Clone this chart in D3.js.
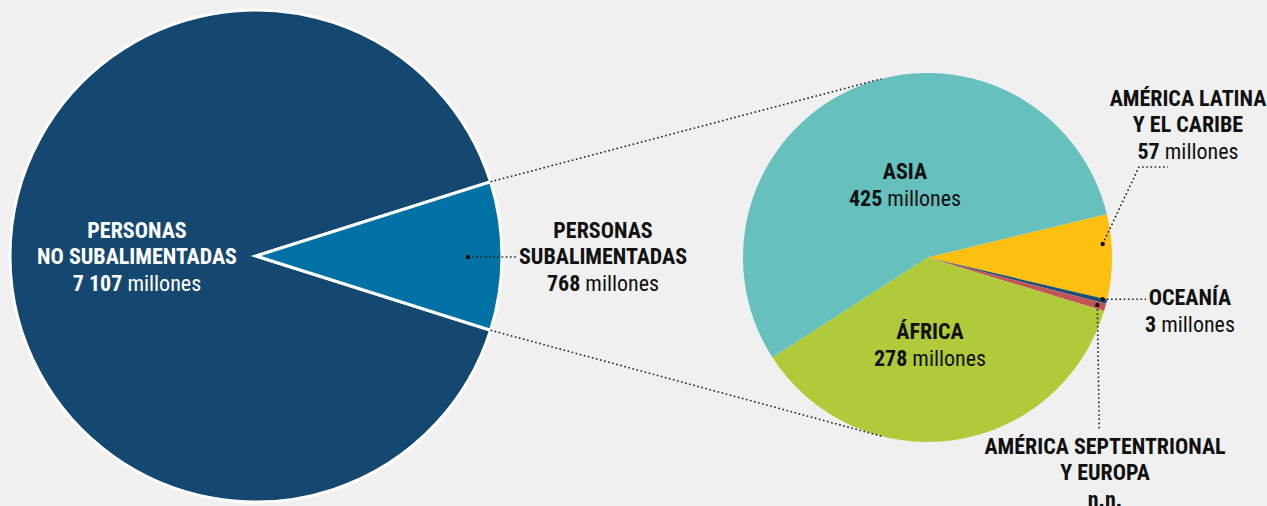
<!DOCTYPE html>
<html>
<head>
<meta charset="utf-8">
<script src="https://cdn.jsdelivr.net/npm/d3@7.9.0/dist/d3.min.js"></script>
<style>
  html, body { margin: 0; padding: 0; background: #f0f0f0; }
  svg { display: block; }
  text { font-family: "Liberation Sans Narrow", "Roboto Condensed", "DejaVu Sans Condensed", sans-serif; }
</style>
</head>
<body>
<svg id="chart" width="1267" height="506"></svg>
<script>
// world population split (millions)
const totalLabels = ["PERSONAS NO SUBALIMENTADAS", "PERSONAS SUBALIMENTADAS"];
const totalValues = [7107, 768];
const totalColors = ["#154870", "#0071a4"];

// undernourished people by region (millions); n.n. slice width estimated
const regions = ["AMÉRICA LATINA Y EL CARIBE", "OCEANÍA", "AMÉRICA SEPTENTRIONAL Y EUROPA", "ÁFRICA", "ASIA"];
const regionValues = [57, 3, 5, 278, 425];
const regionNumbers = ["57", "3", "n.n.", "278", "425"];
const regionColors = ["#fdc010", "#1b4f78", "#c35456", "#b0cb3a", "#66c0be"];

const svg = d3.select("#chart");
const rad = (deg) => (deg * Math.PI) / 180;

// ---- left pie
const left = { cx: 256, cy: 256, r: 246 };
const underAngle = (totalValues[1] / d3.sum(totalValues)) * 360;
const leftPie = d3.pie().sort(null)
  .startAngle(rad(90 + underAngle / 2))
  .endAngle(rad(90 + underAngle / 2 + 360));
const leftArc = d3.arc().innerRadius(0).outerRadius(left.r);

const gL = svg.append("g").attr("transform", `translate(${left.cx},${left.cy})`);
const leftArcs = leftPie(totalValues);
gL.selectAll("path")
  .data(leftArcs)
  .join("path")
  .attr("d", leftArc)
  .attr("fill", (d, i) => totalColors[i])
  .attr("stroke", "#fff")
  .attr("stroke-width", 3)
  .attr("stroke-linejoin", "miter");

// ---- right pie
const right = { cx: 927.5, cy: 257.5, r: 184.5 };
const start = 76.4;
const rightPie = d3.pie().sort(null).startAngle(rad(start)).endAngle(rad(start + 360));
const rightArc = d3.arc().innerRadius(0).outerRadius(right.r);
const gR = svg.append("g").attr("transform", `translate(${right.cx},${right.cy})`);
gR.selectAll("path")
  .data(rightPie(regionValues))
  .join("path")
  .attr("d", rightArc)
  .attr("fill", (d, i) => regionColors[i]);

// ---- connector lines between pies
const polar = (c, r, a) => [c.cx + r * Math.sin(a), c.cy - r * Math.cos(a)];
const under = leftArcs[1];
const connectors = [
  [polar(left, left.r, under.startAngle), polar(right, right.r, rad(-14.5))],
  [polar(left, left.r, under.endAngle), polar(right, right.r, rad(194.3))],
];

const dotted = (pts) => svg.append("path")
  .attr("d", d3.line()(pts))
  .attr("fill", "none")
  .attr("stroke", "#222")
  .attr("stroke-width", 1.6)
  .attr("stroke-dasharray", "1.6 2.6");

connectors.forEach(dotted);

// leaders with end dots
const leaders = [
  [[468, 257], [516, 257]],
  [[1102.7, 244], [1139, 167], [1168, 167]],
  [[1102.7, 299.3], [1146, 299.3]],
  [[1097.3, 305], [1099.3, 431]],
];
leaders.forEach((pts) => {
  dotted(pts);
  svg.append("circle").attr("cx", pts[0][0]).attr("cy", pts[0][1]).attr("r", 2.2).attr("fill", "#111");
});

// ---- labels
function label(x, y, lines, num, color) {
  const t = svg.append("text")
    .attr("x", x).attr("y", y)
    .attr("text-anchor", "middle")
    .attr("fill", color)
    .style("font-size", "22px");
  lines.forEach((ln, i) => {
    t.append("tspan").attr("x", x).attr("dy", i === 0 ? 0 : 26)
      .style("font-weight", "bold").text(ln);
  });
  const last = t.append("tspan").attr("x", x).attr("dy", lines.length ? 27 : 0);
  last.append("tspan").style("font-weight", "bold").text(num);
  if (num !== "n.n.") last.append("tspan").text(" millones");
}

label(137, 238, ["PERSONAS", "NO SUBALIMENTADAS"], "7 107", "#fff");
label(603, 238, ["PERSONAS", "SUBALIMENTADAS"], "768", "#111");
label(905, 179, [regions[4]], regionNumbers[4], "#111");
label(930, 339, [regions[3]], regionNumbers[3], "#111");
label(1188, 106, ["AMÉRICA LATINA", "Y EL CARIBE"], regionNumbers[0], "#111");
label(1190, 305, [regions[1]], regionNumbers[1], "#111");
label(1105, 454, ["AMÉRICA SEPTENTRIONAL", "Y EUROPA"], regionNumbers[2], "#111");
</script>
</body>
</html>
